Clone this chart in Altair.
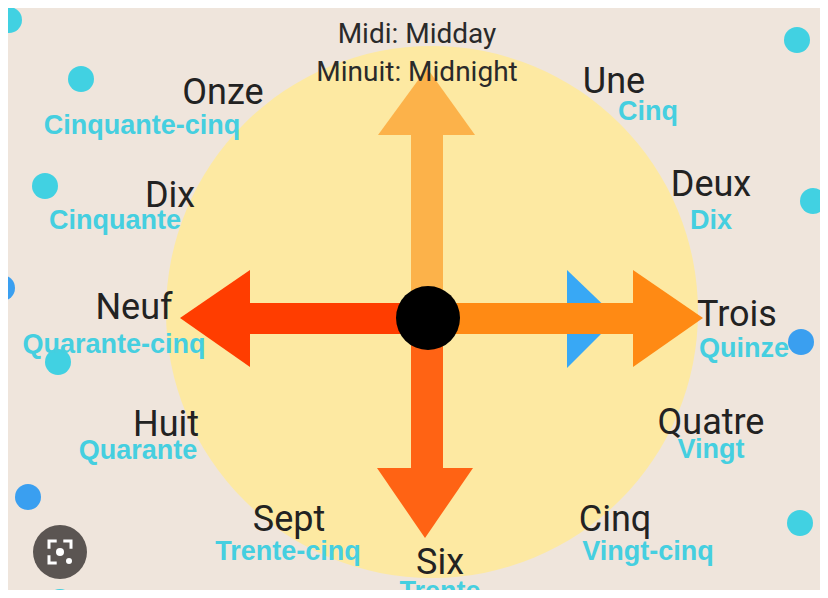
import altair as alt
import pandas as pd

# ---------------- data ----------------
# decorative dots on the background
dot_x = [9, 81, 45, 2, 58, 28, 60, 797, 813, 801, 800]
dot_y = [20, 79, 186, 288, 362, 497, 602, 40, 201, 342, 523]
dot_col = ["#41d1e2", "#41d1e2", "#41d1e2", "#3a9ff0", "#41d1e2", "#3a9ff0",
           "#41d1e2", "#41d1e2", "#41d1e2", "#3a9ff0", "#41d1e2"]

# clock face
face_x = [432]
face_y = [312]
hub_x = [428]
hub_y = [318]

# hour labels (black) and minute labels (cyan)
hour_names = ["Une", "Deux", "Trois", "Quatre", "Cinq", "Six", "Sept", "Huit", "Neuf", "Dix", "Onze"]
hour_x = [614, 711, 737, 711, 615, 440, 289, 166, 134, 170, 223]
hour_y = [82, 185, 315, 423, 520, 563, 520, 425, 308, 196, 93]

min_names = ["Cinq", "Dix", "Quinze", "Vingt", "Vingt-cinq", "Trente", "Trente-cinq",
             "Quarante", "Quarante-cinq", "Cinquante", "Cinquante-cinq"]
min_x = [648, 711, 744, 711, 648, 440, 288, 138, 114, 115, 142]
min_y = [112, 221, 349, 450, 552, 592, 552, 451, 345, 221, 126]

note_text = ["Midi: Midday", "Minuit: Midnight"]
note_x = [417, 417]
note_y = [35, 73]

# arrow shafts
shaft_name = ["up", "left", "right", "down"]
shaft_x1 = [411, 248, 428, 411]
shaft_x2 = [443, 428, 635, 443]
shaft_y1 = [135, 303, 303, 318]
shaft_y2 = [318, 334, 334, 470]
shaft_col = ["#fcb24a", "#ff3d00", "#ff8a14", "#ff6314"]

# horizontal arrow heads (left, right) and the blue minute head
hhead_id = ["left", "left", "blue", "blue", "right", "right"]
hhead_x = [180, 250, 567, 617, 633, 703]
hhead_y = [318, 270, 270, 318, 270, 318]
hhead_y2 = [318, 367, 368, 318, 367, 318]
hhead_col = ["#ff3d00", "#ff3d00", "#38a8f5", "#38a8f5", "#ff8a14", "#ff8a14"]

# vertical arrow heads (up, down)
vhead_id = ["up", "up", "down", "down"]
vhead_y = [68, 135, 468, 538]
vhead_x = [427, 378, 377, 425]
vhead_x2 = [427, 475, 473, 425]
vhead_col = ["#fcb24a", "#fcb24a", "#ff6314", "#ff6314"]

# lens button
lens_x = [60]
lens_y = [552]

# ---------------- scales ----------------
X = lambda f="x": alt.X(f"{f}:Q", scale=alt.Scale(domain=[8, 820], nice=False, zero=False), axis=None)
Y = lambda f="y": alt.Y(f"{f}:Q", scale=alt.Scale(domain=[590, 8], nice=False, zero=False), axis=None)

dots = alt.Chart(pd.DataFrame({"x": dot_x, "y": dot_y, "c": dot_col})).mark_circle(
    size=26 * 26, opacity=1, clip=True
).encode(x=X(), y=Y(), color=alt.Color("c:N", scale=None))

face = alt.Chart(pd.DataFrame({"x": face_x, "y": face_y})).mark_circle(
    size=532 * 532, color="#fde9a2", opacity=1
).encode(x=X(), y=Y())

shafts = alt.Chart(pd.DataFrame({"n": shaft_name, "x": shaft_x1, "x2": shaft_x2,
                                 "y": shaft_y1, "y2": shaft_y2, "c": shaft_col})).mark_rect().encode(
    x=X(), x2="x2:Q", y=Y(), y2="y2:Q", color=alt.Color("c:N", scale=None)
)

hheads = alt.Chart(pd.DataFrame({"id": hhead_id, "x": hhead_x, "y": hhead_y,
                                 "y2": hhead_y2, "c": hhead_col})).mark_area(
    orient="vertical", opacity=1
).encode(x=X(), y=Y(), y2="y2:Q", detail="id:N", color=alt.Color("c:N", scale=None))

blue_head = hheads.transform_filter(alt.datum.id == "blue")
lr_heads = hheads.transform_filter(alt.datum.id != "blue")

vheads = alt.Chart(pd.DataFrame({"id": vhead_id, "x": vhead_x, "x2": vhead_x2,
                                 "y": vhead_y, "c": vhead_col})).mark_area(
    orient="horizontal", opacity=1
).encode(y=Y(), x=X(), x2="x2:Q", detail="id:N", color=alt.Color("c:N", scale=None))

hub = alt.Chart(pd.DataFrame({"x": hub_x, "y": hub_y})).mark_circle(
    size=64 * 64, color="#000000", opacity=1
).encode(x=X(), y=Y())

notes = alt.Chart(pd.DataFrame({"x": note_x, "y": note_y, "t": note_text})).mark_text(
    font="Roboto", fontSize=28, color="#2a2a2a", align="center", baseline="middle"
).encode(x=X(), y=Y(), text="t:N")

hours = alt.Chart(pd.DataFrame({"x": hour_x, "y": hour_y, "t": hour_names})).mark_text(
    font="Roboto", fontSize=36, color="#222222", align="center", baseline="middle"
).encode(x=X(), y=Y(), text="t:N")

mins = alt.Chart(pd.DataFrame({"x": min_x, "y": min_y, "t": min_names})).mark_text(
    font="Liberation Sans", fontSize=27, fontWeight="bold", color="#45cfe0",
    align="center", baseline="middle", clip=True
).encode(x=X(), y=Y(), text="t:N")

lens_df = pd.DataFrame({"x": lens_x, "y": lens_y})
lens_bg = alt.Chart(lens_df).mark_circle(size=54 * 54, color="#5b5552", opacity=1).encode(x=X(), y=Y())
lens_br = alt.Chart(lens_df).mark_point(
    shape="M-1,-0.3L-1,-1L-0.3,-1M0.3,-1L1,-1L1,-0.3M-1,0.3L-1,1L-0.3,1",
    size=22 * 22, filled=False, color="white", strokeWidth=3, opacity=1
).encode(x=X(), y=Y())
lens_dot = alt.Chart(lens_df).mark_circle(size=64, color="white", opacity=1).encode(x=X(), y=Y())
lens_dot2 = alt.Chart(pd.DataFrame({"x": [lens_x[0] + 9], "y": [lens_y[0] + 9]})).mark_circle(
    size=36, color="white", opacity=1).encode(x=X(), y=Y())

chart = alt.layer(
    dots, face, blue_head, shafts, lr_heads, vheads, hub,
    notes, hours, mins, lens_bg, lens_br, lens_dot, lens_dot2
).properties(
    width=812, height=582, padding=0, background="#efe5dc"
).configure_view(stroke=None)

chart.save("out.html", embed_options={"renderer": "svg", "actions": False})
